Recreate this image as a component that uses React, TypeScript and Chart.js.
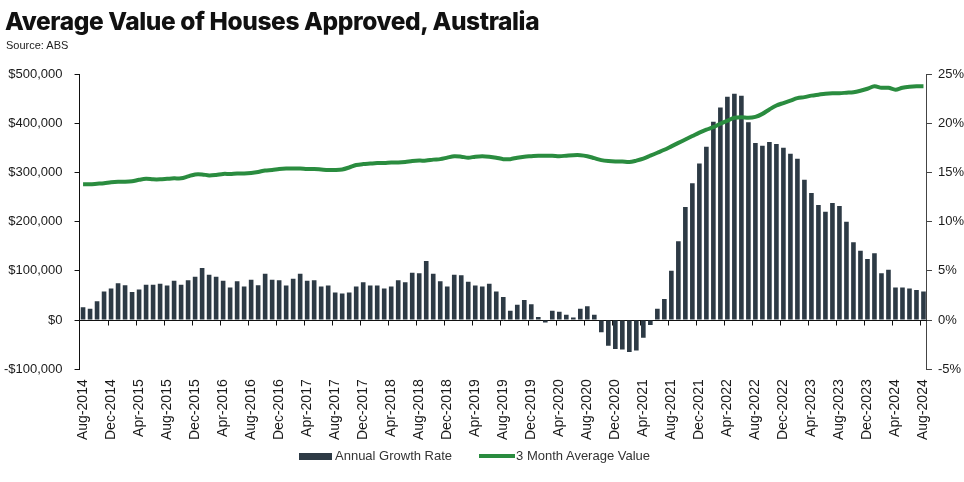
import React, { useEffect, useRef } from 'react';
import { Chart, registerables } from 'chart.js';

Chart.register(...registerables);

const MONTH_NAMES = ['Jan', 'Feb', 'Mar', 'Apr', 'May', 'Jun', 'Jul', 'Aug', 'Sep', 'Oct', 'Nov', 'Dec'];
const START_YEAR = 2014;
const START_MONTH_INDEX = 7; // Aug
const MONTH_COUNT = 121; // Aug-2014 .. Aug-2024
const LABEL_EVERY = 4;

const categories: string[] = Array.from({ length: MONTH_COUNT }, (_, i) => {
  const m = START_MONTH_INDEX + i;
  return MONTH_NAMES[m % 12] + '-' + (START_YEAR + Math.floor(m / 12));
});

// Annual growth rate, % (right axis)
const annualGrowthRate = [
  1.3, 1.15, 1.9, 2.9, 3.2, 3.75, 3.55, 2.85, 3.1, 3.6,
  3.6, 3.7, 3.5, 4.0, 3.6, 4.05, 4.4, 5.3, 4.6, 4.4,
  4.0, 3.3, 3.95, 3.4, 4.1, 3.55, 4.7, 4.1, 4.05, 3.5,
  4.2, 4.7, 4.0, 4.05, 3.4, 3.5, 2.8, 2.7, 2.8, 3.4,
  3.85, 3.5, 3.5, 3.2, 3.4, 4.05, 3.85, 4.8, 4.75, 6.0,
  4.7, 3.95, 3.4, 4.6, 4.55, 3.9, 3.5, 3.4, 3.7, 2.9,
  2.35, 0.95, 1.55, 2.05, 1.6, 0.3, -0.25, 0.95, 0.85, 0.55,
  0.25, 1.15, 1.4, 0.55, -1.25, -2.6, -2.95, -3.0, -3.25, -3.1,
  -1.8, -0.5, 1.15, 2.15, 5.0, 8.0, 11.5, 13.9, 15.9, 17.6,
  20.15, 21.6, 22.7, 23.0, 22.8, 20.1, 18.0, 17.7, 18.1, 17.9,
  17.5, 16.9, 16.4, 14.25, 12.9, 11.7, 11.0, 11.9, 11.6, 10.0,
  7.9, 7.05, 6.2, 6.8, 4.75, 5.1, 3.3, 3.3, 3.2, 3.05,
  2.9,
];

// 3 month average value, $ (left axis)
const threeMonthAverageValue = [
  276000, 276000, 277000, 278000, 280000, 281000, 281000, 282000, 285000, 287000,
  286000, 286000, 287000, 288000, 288000, 292000, 296000, 296000, 294000, 295000,
  297000, 297000, 298000, 298000, 299000, 301000, 304000, 305000, 307000, 308000,
  308000, 308000, 307000, 307000, 306000, 305000, 305000, 306000, 310000, 315000,
  317000, 318000, 319000, 319000, 320000, 320000, 321000, 323000, 324000, 324000,
  326000, 327000, 330000, 333000, 332000, 330000, 332000, 333000, 332000, 330000,
  327000, 327000, 330000, 332000, 333000, 334000, 334000, 334000, 333000, 334000,
  335000, 335000, 333000, 329000, 325000, 323000, 322000, 322000, 321000, 324000,
  328000, 334000, 340000, 346000, 353000, 360000, 367000, 374000, 381000, 387000,
  392000, 399000, 405000, 411000, 412000, 411000, 413000, 419000, 428000, 436000,
  441000, 446000, 451000, 453000, 456000, 458000, 460000, 461000, 461000, 462000,
  463000, 466000, 470000, 475000, 472000, 472000, 468000, 472000, 474000, 475000,
  475000,
];

const VALUE_MIN = -100000;
const VALUE_MAX = 500000;
const VALUE_STEP = 100000;
const RATE_MIN = -5;
const RATE_MAX = 25;
const RATE_STEP = 5;

const SERIES_NAMES = ['Annual Growth Rate', '3 Month Average Value'];
const BAR_COLOR = '#2d3a45';
const LINE_COLOR = '#2a8c3f';
const AXIS_FONT = { family: '"Liberation Sans", Arial, sans-serif', size: 13 };
const X_AXIS_FONT = { family: '"Liberation Sans", Arial, sans-serif', size: 14 };
const TEXT_COLOR = '#1a1a1a';

function formatDollar(v: number): string {
  const s = '$' + Math.abs(v).toLocaleString('en-US');
  return v < 0 ? '-' + s : s;
}

// Draws the horizontal category axis line at zero with a tick mark every LABEL_EVERY months
const zeroAxisPlugin = {
  id: 'zeroAxis',
  beforeDatasetsDraw(chart: any) {
    const { ctx, chartArea, scales } = chart;
    const xs = scales.x;
    const ys = scales.y1;
    const y0 = Math.round(ys.getPixelForValue(0)) + 0.5;
    const half = (xs.getPixelForValue(1) - xs.getPixelForValue(0)) / 2;
    ctx.save();
    ctx.strokeStyle = '#111';
    ctx.lineWidth = 1;
    ctx.beginPath();
    ctx.moveTo(chartArea.left, y0);
    ctx.lineTo(chartArea.right, y0);
    for (let i = LABEL_EVERY; i < categories.length; i += LABEL_EVERY) {
      const xp = Math.round(xs.getPixelForValue(i) - half) + 0.5;
      ctx.moveTo(xp, y0);
      ctx.lineTo(xp, y0 + 5);
    }
    ctx.stroke();
    ctx.restore();
  },
};

export default function App() {
  const canvasRef = useRef<HTMLCanvasElement | null>(null);

  useEffect(() => {
    const canvas = canvasRef.current;
    if (!canvas) return;
    const chart = new Chart(canvas, {
      type: 'bar',
      data: {
        labels: categories,
        datasets: [
          {
            type: 'bar',
            label: SERIES_NAMES[0],
            data: annualGrowthRate,
            backgroundColor: BAR_COLOR,
            borderWidth: 0,
            yAxisID: 'y1',
            barPercentage: 0.66,
            categoryPercentage: 1,
            order: 1,
          },
          {
            type: 'line',
            label: SERIES_NAMES[1],
            data: threeMonthAverageValue,
            borderColor: LINE_COLOR,
            backgroundColor: LINE_COLOR,
            borderWidth: 4,
            pointRadius: 0,
            tension: 0.3,
            yAxisID: 'y',
            order: 0,
          },
        ],
      },
      plugins: [zeroAxisPlugin],
      options: {
        animation: false,
        responsive: false,
        maintainAspectRatio: false,
        layout: { padding: { left: -8, right: -6, top: 74, bottom: 32 } },
        plugins: {
          legend: { display: false },
          title: { display: false },
          tooltip: { enabled: false },
        },
        scales: {
          x: {
            type: 'category',
            position: 'bottom',
            offset: true,
            grid: { display: false, drawTicks: false },
            border: { display: false },
            ticks: {
              autoSkip: false,
              maxRotation: 90,
              minRotation: 90,
              padding: 10,
              color: TEXT_COLOR,
              font: X_AXIS_FONT,
              callback: (_v: any, i: number) => (i % LABEL_EVERY === 0 ? categories[i] : ''),
            },
          },
          y: {
            type: 'linear',
            position: 'left',
            min: VALUE_MIN,
            max: VALUE_MAX,
            grid: { display: true, drawOnChartArea: false, drawTicks: true, tickLength: 5, tickColor: '#111' },
            border: { display: true, color: '#111', width: 1 },
            ticks: {
              stepSize: VALUE_STEP,
              padding: 12,
              color: TEXT_COLOR,
              font: AXIS_FONT,
              callback: (v: any) => formatDollar(Number(v)),
            },
          },
          y1: {
            type: 'linear',
            position: 'right',
            min: RATE_MIN,
            max: RATE_MAX,
            grid: { display: true, drawOnChartArea: false, drawTicks: true, tickLength: 5, tickColor: '#444' },
            border: { display: true, color: '#444', width: 1 },
            ticks: {
              stepSize: RATE_STEP,
              padding: 6,
              color: TEXT_COLOR,
              font: AXIS_FONT,
              callback: (v: any) => v + '%',
            },
          },
        },
      },
    });
    return () => chart.destroy();
  }, []);

  return (
    <div style={{ position: 'fixed', left: 0, top: 0, width: 964, height: 482, background: '#fff', overflow: 'hidden' }}>
      <canvas ref={canvasRef} width={964} height={482} style={{ position: 'absolute', left: 0, top: 0, width: 964, height: 482 }} />
      <div
        style={{
          position: 'absolute', left: 5, top: 5, fontFamily: 'Inter, "Noto Sans", sans-serif', fontWeight: 800,
          fontSize: 24.5, letterSpacing: -0.4, color: '#111', whiteSpace: 'nowrap', lineHeight: '32px',
        }}
      >
        Average Value of Houses Approved, Australia
      </div>
      <div
        style={{
          position: 'absolute', left: 6, top: 38, fontFamily: '"Liberation Sans", Arial, sans-serif',
          fontSize: 11, color: '#222', whiteSpace: 'nowrap', lineHeight: '14px',
        }}
      >
        Source: ABS
      </div>
      <div
        style={{
          position: 'absolute', left: 299, top: 448, display: 'flex', alignItems: 'center', whiteSpace: 'nowrap',
          fontFamily: '"Liberation Sans", Arial, sans-serif', fontSize: 13, color: '#333', lineHeight: '16px',
        }}
      >
        <span style={{ display: 'inline-block', width: 33, height: 7, background: BAR_COLOR, marginRight: 3 }} />
        <span>{SERIES_NAMES[0]}</span>
        <span style={{ display: 'inline-block', width: 36, height: 4, background: LINE_COLOR, marginLeft: 27, marginRight: 1 }} />
        <span>{SERIES_NAMES[1]}</span>
      </div>
    </div>
  );
}
